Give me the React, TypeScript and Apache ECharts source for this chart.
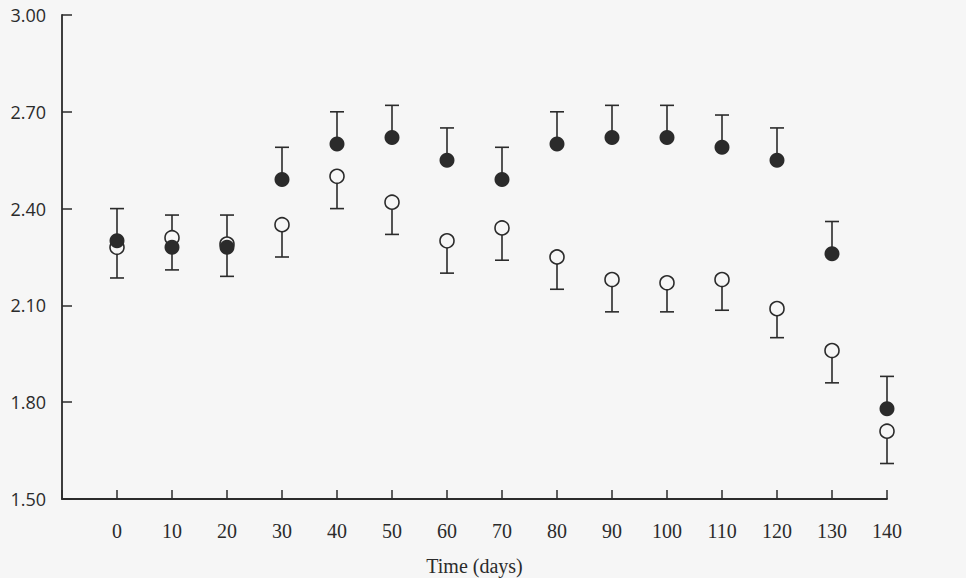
import React, { useEffect, useRef } from "react";
import * as echarts from "echarts";

const days = [0, 10, 20, 30, 40, 50, 60, 70, 80, 90, 100, 110, 120, 130, 140];
const filledMeans = [2.3, 2.28, 2.28, 2.49, 2.6, 2.62, 2.55, 2.49, 2.6, 2.62, 2.62, 2.59, 2.55, 2.26, 1.78];
const filledUpper = [2.4, 2.38, 2.38, 2.59, 2.7, 2.72, 2.65, 2.59, 2.7, 2.72, 2.72, 2.69, 2.65, 2.36, 1.88];
const openMeans = [2.28, 2.31, 2.29, 2.35, 2.5, 2.42, 2.3, 2.34, 2.25, 2.18, 2.17, 2.18, 2.09, 1.96, 1.71];
const openLower = [2.185, 2.21, 2.19, 2.25, 2.4, 2.32, 2.2, 2.24, 2.15, 2.08, 2.08, 2.085, 2.0, 1.86, 1.61];
const xAxisName = "Time (days)";

const INK = "#2b2b2b";
const BG = "#f6f6f6";

export default function App() {
  const ref = useRef<HTMLDivElement>(null);
  useEffect(() => {
    document.body.style.margin = "0";
    const chart = echarts.init(ref.current!, null, { renderer: "svg" });
    const errRender = (params: any, api: any) => {
      const x = api.value(0);
      const p0 = api.coord([x, api.value(1)]);
      const p1 = api.coord([x, api.value(2)]);
      const st = { stroke: INK, lineWidth: 1.6 };
      return {
        type: "group",
        children: [
          { type: "line", shape: { x1: p0[0], y1: p0[1], x2: p1[0], y2: p1[1] }, style: st },
          { type: "line", shape: { x1: p1[0] - 7, y1: p1[1], x2: p1[0] + 7, y2: p1[1] }, style: st },
        ],
      };
    };
    chart.setOption({
      animation: false,
      backgroundColor: BG,
      grid: { left: 62, right: 79, top: 15, bottom: 79, containLabel: false, outerBoundsMode: "none" },
      xAxis: {
        type: "value",
        min: -10,
        max: 140,
        interval: 10,
        name: xAxisName,
        nameLocation: "middle",
        nameGap: 57,
        nameTextStyle: { fontFamily: "Liberation Serif", fontSize: 20, color: INK },
        axisLine: { show: true, onZero: false, lineStyle: { color: INK, width: 1.8 } },
        axisTick: { show: true, inside: true, length: 9, lineStyle: { color: INK, width: 1.5 } },
        axisLabel: {
          margin: 22,
          fontFamily: "Liberation Serif",
          fontSize: 20,
          color: INK,
          formatter: (v: number) => (v < 0 ? "" : String(v)),
        },
        splitLine: { show: false },
      },
      yAxis: {
        type: "value",
        min: 1.5,
        max: 3.0,
        interval: 0.3,
        axisLine: { show: true, onZero: false, lineStyle: { color: INK, width: 1.8 } },
        axisTick: { show: true, inside: true, length: 10, lineStyle: { color: INK, width: 1.5 } },
        axisLabel: {
          margin: 16,
          fontFamily: "Open Sans",
          fontSize: 18,
          color: INK,
          formatter: (v: number) => v.toFixed(2),
        },
        splitLine: { show: false },
      },
      series: [
        {
          type: "custom",
          renderItem: errRender,
          encode: { x: 0, y: [1, 2] },
          data: days.map((d, i) => [d, filledMeans[i], filledUpper[i]]),
          z: 1,
        },
        {
          type: "custom",
          renderItem: errRender,
          encode: { x: 0, y: [1, 2] },
          data: days.map((d, i) => [d, openMeans[i], openLower[i]]),
          z: 1,
        },
        {
          type: "scatter",
          symbol: "circle",
          symbolSize: 14,
          data: days.map((d, i) => [d, openMeans[i]]),
          itemStyle: { color: BG, borderColor: INK, borderWidth: 1.6, opacity: 1 },
          z: 2,
        },
        {
          type: "scatter",
          symbol: "circle",
          symbolSize: 15,
          data: days.map((d, i) => [d, filledMeans[i]]),
          itemStyle: { color: INK, opacity: 1 },
          z: 3,
        },
      ],
    });
    return () => chart.dispose();
  }, []);
  return <div ref={ref} style={{ width: 966, height: 578 }} />;
}
